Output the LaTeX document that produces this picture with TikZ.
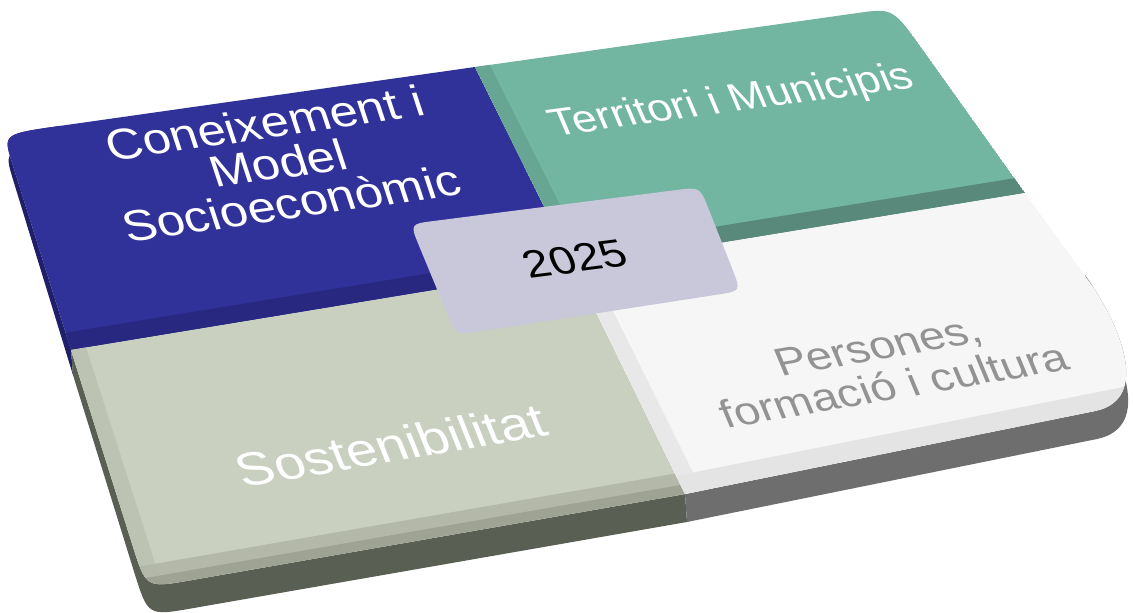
\documentclass[tikz,border=0pt]{standalone}
\usepackage{fontspec}
\setmainfont{Liberation Sans}
\usetikzlibrary{calc}
\definecolor{cblue}{HTML}{31319A}
\definecolor{cblueband}{HTML}{282880}
\definecolor{cblueside}{HTML}{20206A}
\definecolor{cteal}{HTML}{72B5A0}
\definecolor{ctealband}{HTML}{58897A}
\definecolor{ctealleft}{HTML}{67A692}
\definecolor{cgreen}{HTML}{C9D0BF}
\definecolor{cgreenband}{HTML}{B3B8A9}
\definecolor{cgreenbandb}{HTML}{9EA394}
\definecolor{cgreenleft}{HTML}{BDC3B3}
\definecolor{cgreenside}{HTML}{5A5F54}
\definecolor{cwhite}{HTML}{F6F6F6}
\definecolor{cwhiteband}{HTML}{E4E4E4}
\definecolor{cwhiteleft}{HTML}{E8E8E8}
\definecolor{cwhiteside}{HTML}{6E6E6E}
\definecolor{cbox}{HTML}{C8C8DA}
\definecolor{cgraytext}{HTML}{939393}
\tikzset{
  lbl/.style={align=center, inner sep=0pt, text=white},
}
\begin{document}
\begin{tikzpicture}[x=1pt,y=-1pt]
\useasboundingbox (0,0) rectangle (1133,613);
% grid of the top surface (image coordinates)
\coordinate (TL) at (3,134);
\coordinate (TM) at (475,67);
\coordinate (TR) at (893,8);
\coordinate (ML) at (71,350);
\coordinate (C) at (574,267);
\coordinate (MR) at (1025,193);
\coordinate (BL) at (146,588);
\coordinate (BM) at (685,494);
\coordinate (BR) at (1172,396);
% rounding points
\coordinate (TLa) at ($(TL)!58pt!(TM)$);
\coordinate (TLb) at ($(TL)!30pt!(ML)$);
\coordinate (TRa) at ($(TR)!35pt!(TM)$);
\coordinate (TRb) at ($(TR)!55pt!(MR)$);
\coordinate (BRa) at (1085,275);
\coordinate (BRc) at (1120,324);
\coordinate (BRd) at (1152,399);
\coordinate (BRb) at (1095,411);
\coordinate (BLa) at ($(BL)!45pt!(ML)$);
\coordinate (BLb) at ($(BL)!45pt!(BM)$);
% shifted (thickness)
\coordinate (TLs) at ($(TL)+(1,16)$);
\coordinate (TLas) at ($(TLa)+(1,16)$);
\coordinate (TLbs) at ($(TLb)+(1,17)$);
\coordinate (MLs) at ($(ML)+(2,25)$);
\coordinate (BLs) at ($(BL)+(2,28)$);
\coordinate (BLas) at ($(BLa)+(2,28)$);
\coordinate (BLbs) at ($(BLb)+(2,28)$);
\coordinate (BMs) at ($(BM)+(2,28)$);
\coordinate (BRas) at ($(BRa)+(2,28)$);
\coordinate (BRcs) at ($(BRc)+(2,28)$);
\coordinate (BRds) at ($(BRd)+(2,28)$);
\coordinate (BRbs) at ($(BRb)+(2,28)$);
% side faces
\fill[cblueside] (TLa) .. controls (TL) .. (TLb) -- (ML) -- (MLs) -- (TLbs) .. controls (TLs) .. (TLas) -- cycle;
\fill[cgreenside] (ML) -- (BLa) .. controls (BL) .. (BLb) -- (BM) -- (BMs) -- (BLbs) .. controls (BLs) .. (BLas) -- (MLs) -- cycle;
\fill[cwhiteside] (BM) -- (BRb) .. controls (BRd) and (BRc) .. (BRa) -- (BRas) .. controls (BRcs) and (BRds) .. (BRbs) -- (BMs) -- cycle;
% blue tile
\begin{scope}
\clip (TLb) .. controls (TL) .. (TLa) -- (TM) -- (C) -- (ML) -- cycle;
\fill[cblue] (TL) -- (TM) -- (C) -- (ML) -- cycle;
\fill[cblueband] ($(ML)!0.08!(TL)$) -- ($(C)!0.08!(TM)$) -- (C) -- (ML) -- cycle;
\end{scope}
% teal tile
\begin{scope}
\clip (TM) -- (TRa) .. controls (TR) .. (TRb) -- (MR) -- (C) -- cycle;
\fill[cteal] (TM) -- (TR) -- (MR) -- (C) -- cycle;
\fill[ctealleft] (TM) -- ($(TM)!0.035!(TR)$) -- ($(C)!0.035!(MR)$) -- (C) -- cycle;
\fill[ctealband] ($(C)!0.08!(TM)$) -- ($(MR)!0.08!(TR)$) -- (MR) -- (C) -- cycle;
\end{scope}
% green tile
\begin{scope}
\clip (ML) -- (C) -- (BM) -- (BLb) .. controls (BL) .. (BLa) -- cycle;
\fill[cgreen] (ML) -- (C) -- (BM) -- (BL) -- cycle;
\fill[cgreenleft] (ML) -- ($(ML)!0.03!(C)$) -- ($(BL)!0.03!(BM)$) -- (BL) -- cycle;
\fill[cgreenband] ($(BL)!0.09!(ML)$) -- ($(BM)!0.09!(C)$) -- (BM) -- (BL) -- cycle;
\fill[cgreenbandb] ($(BL)!0.04!(ML)$) -- ($(BM)!0.04!(C)$) -- (BM) -- (BL) -- cycle;
\end{scope}
% white tile
\begin{scope}
\clip (C) -- (MR) -- (BRa) .. controls (BRc) and (BRd) .. (BRb) -- (BM) -- cycle;
\fill[cwhite] (C) -- (MR) -- (BR) -- (BM) -- cycle;
\fill[cwhiteleft] (C) -- ($(C)!0.035!(MR)$) -- ($(BM)!0.035!(BR)$) -- (BM) -- cycle;
\fill[cwhiteband] ($(BM)!0.08!(C)$) -- ($(BR)!0.08!(MR)$) -- (BR) -- (BM) -- cycle;
\end{scope}
% texts
\begin{scope}[shift={(278,163)}, cm={0.99,0.143,-0.28,0.85,(0,0)}, transform shape]
\node[lbl, font=\fontsize{50}{47}\selectfont] (bluetext) at (0,0) {Coneixement i\\Model\\Socioeconòmic};
\end{scope}
\begin{scope}[shift={(732,102)}, cm={0.991,0.134,-0.36,0.85,(0,0)}, transform shape]
\node[lbl, font=\fontsize{44}{44}\selectfont] (tealtext) at (0,0) {Territori i Municipis};
\end{scope}
\begin{scope}[shift={(391,445)}, cm={0.985,0.17,-0.33,0.82,(0,0)}, transform shape]
\node[lbl, font=\fontsize{55}{55}\selectfont] (greentext) at (0,0) {Sostenibilitat};
\end{scope}
\begin{scope}[shift={(886,366)}, cm={0.985,0.17,-0.34,0.82,(0,0)}, transform shape]
\node[lbl, text=cgraytext, font=\fontsize{46}{48}\selectfont] (whitetext) at (0,0) {Persones,\\formació i cultura};
\end{scope}
% central box
\coordinate (Q1) at (410,224);
\coordinate (Q2) at (700,187);
\coordinate (Q3) at (741,291);
\coordinate (Q4) at (456,335);
\coordinate (Q1a) at ($(Q1)!24pt!(Q2)$);
\coordinate (Q1b) at ($(Q1)!24pt!(Q4)$);
\coordinate (Q2a) at ($(Q2)!24pt!(Q1)$);
\coordinate (Q2b) at ($(Q2)!24pt!(Q3)$);
\coordinate (Q3a) at ($(Q3)!24pt!(Q2)$);
\coordinate (Q3b) at ($(Q3)!24pt!(Q4)$);
\coordinate (Q4a) at ($(Q4)!24pt!(Q3)$);
\coordinate (Q4b) at ($(Q4)!24pt!(Q1)$);
\fill[cbox] (Q1b) .. controls (Q1) .. (Q1a) -- (Q2a) .. controls (Q2) .. (Q2b) -- (Q3a) .. controls (Q3) .. (Q3b) -- (Q4a) .. controls (Q4) .. (Q4b) -- cycle;
\begin{scope}[shift={(575,259)}, cm={0.992,0.127,-0.34,0.82,(0,0)}, transform shape]
\node[inner sep=0pt, text=black, font=\fontsize{46}{46}\selectfont] (year) at (0,0) {2025};
\end{scope}
\end{tikzpicture}
\end{document}
